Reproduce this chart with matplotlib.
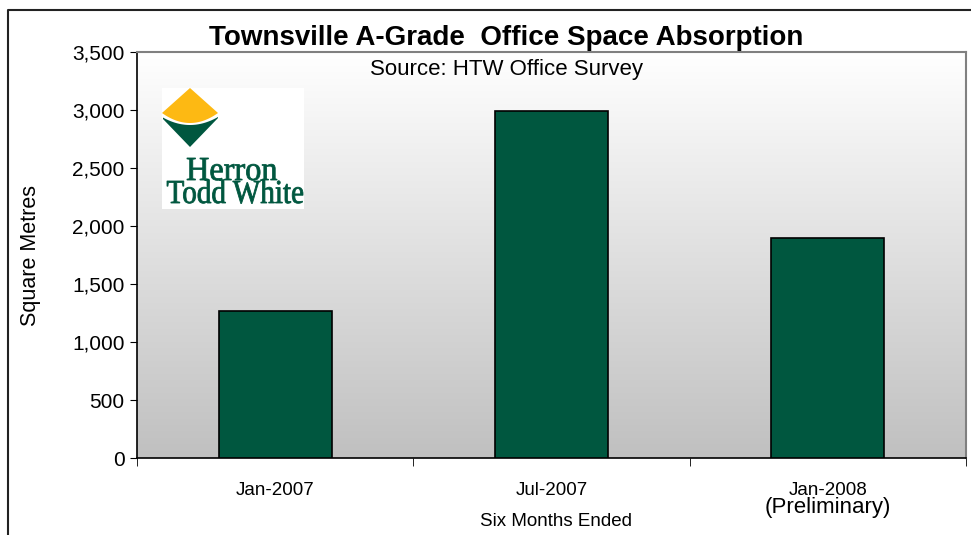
import numpy as np
import matplotlib.pyplot as plt
from matplotlib.patches import Polygon, Rectangle, PathPatch
from matplotlib.textpath import TextPath
from matplotlib.font_manager import FontProperties
from matplotlib.transforms import Affine2D

periods = ['Jan-2007', 'Jul-2007', 'Jan-2008']
absorption = [1265, 2990, 1895]
y_ticks = [0, 500, 1000, 1500, 2000, 2500, 3000, 3500]

bar_green = '#00573f'
logo_yellow = '#fdb913'

plt.rcParams['font.family'] = ['Liberation Sans', 'DejaVu Sans']

W, H = 971, 535
fig = plt.figure(figsize=(W / 100, H / 100), dpi=100)
fig.patch.set_facecolor('white')

# plot area in pixel terms
L, T, R, B = 137, 52, 966, 458
ax = fig.add_axes([L / W, 1 - B / H, (R - L) / W, (B - T) / H])

x = np.arange(len(periods))
ax.set_xlim(-0.5, len(periods) - 0.5)
ax.set_ylim(0, 3500)

# gradient background
grad = np.linspace(1, 0, 256).reshape(-1, 1)
cmap = plt.matplotlib.colors.LinearSegmentedColormap.from_list('g', ['#c0c0c0', '#ffffff'])
ax.imshow(grad, extent=[-0.5, len(periods) - 0.5, 0, 3500], aspect='auto',
          cmap=cmap, zorder=0, origin='upper')

ax.bar(x, absorption, width=0.41, color=bar_green, edgecolor='black', linewidth=1.2, zorder=3)

ax.set_yticks(y_ticks)
ax.set_yticklabels([f'{v:,}' for v in y_ticks], fontsize=15)
ax.set_xticks(x)
ax.set_xticklabels(periods, fontsize=13.5)
ax.tick_params(axis='x', length=0, pad=17)
ax.set_xticks(np.arange(-0.5, len(periods), 1), minor=True)
ax.tick_params(axis='x', which='minor', length=6, direction='out', color='black')
ax.tick_params(axis='y', length=5, direction='out', pad=4)

for s in ['left', 'bottom']:
    ax.spines[s].set_color('black')
    ax.spines[s].set_linewidth(1.2)
for s in ['top', 'right']:
    ax.spines[s].set_color('#808080')
    ax.spines[s].set_linewidth(1.5)

ax.set_ylabel('Square Metres', fontsize=15.5, labelpad=22)
ax.text(2, -0.123, '(Preliminary)', transform=ax.get_xaxis_transform(),
        ha='center', va='center', fontsize=16)
fig.text(556 / W, 1 - 521 / H, 'Six Months Ended', ha='center', va='center', fontsize=13.5)

fig.text(506 / W, 1 - 38 / H, 'Townsville A-Grade  Office Space Absorption',
         ha='center', va='center', fontsize=20, fontweight='bold')
fig.text(507 / W, 1 - 70 / H, 'Source: HTW Office Survey', ha='center', va='center', fontsize=16)

# overlay in pixel coordinates for the frame and logo
ov = fig.add_axes([0, 0, 1, 1])
ov.set_xlim(0, W)
ov.set_ylim(H, 0)
ov.axis('off')
ov.patch.set_alpha(0)
ov.plot([8, 8, W], [H, 10, 10], color='#222222', lw=1.5, solid_capstyle='butt')

ov.add_patch(Rectangle((162, 88), 142, 121, facecolor='white', edgecolor='none'))
arc_x = np.linspace(162, 218, 40)
sag = 10 * (1 - ((arc_x - 190) / 28) ** 2)
yellow = [(190, 88), (162, 113)] + list(zip(arc_x, 113 + sag)) + [(218, 113)]
ov.add_patch(Polygon(yellow, closed=True, facecolor=logo_yellow, edgecolor='none'))
gx = np.linspace(163, 218, 40)
gsag = 8 * (1 - ((gx - 190) / 28) ** 2)
green = list(zip(gx, 117 + gsag)) + [(218, 118), (190, 147), (163, 119)]
ov.add_patch(Polygon(green, closed=True, facecolor=bar_green, edgecolor='none'))


def logo_word(txt, x0, x1, top, base):
    fp = FontProperties(family='Liberation Serif')
    tp = TextPath((0, 0), txt, size=100, prop=fp)
    bb = tp.get_extents()
    cap = TextPath((0, 0), 'H', size=100, prop=fp).get_extents().y1
    sx = (x1 - x0) / bb.width
    sy = (base - top) / cap
    tr = Affine2D().translate(-bb.x0, 0).scale(sx, -sy).translate(x0, base)
    ov.add_patch(PathPatch(tr.transform_path(tp), facecolor=bar_green,
                           edgecolor=bar_green, linewidth=0.6))


logo_word('Herron', 187, 277, 158, 180)
logo_word('Todd White', 167, 303, 181, 203)

fig.savefig('out.png', dpi=100)
